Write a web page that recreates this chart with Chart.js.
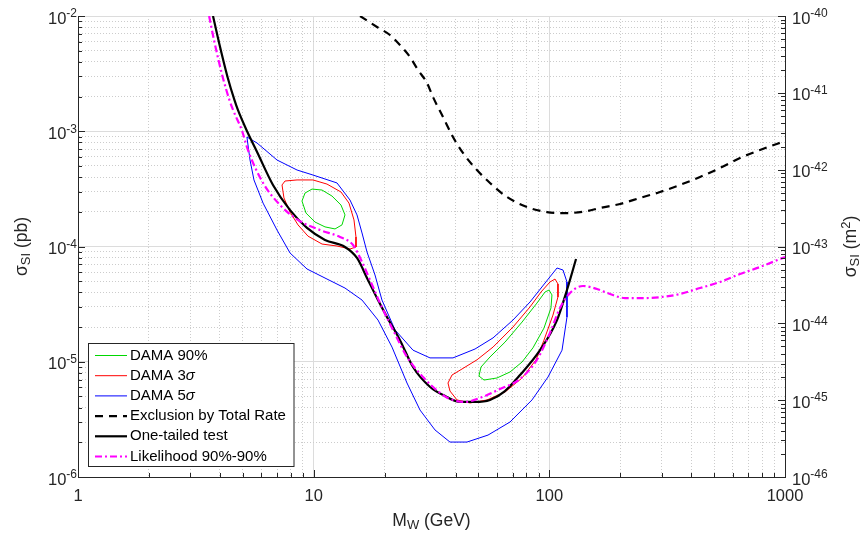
<!DOCTYPE html>
<html>
<head>
<meta charset="utf-8">
<script src="https://cdn.jsdelivr.net/npm/chart.js@4.4.0/dist/chart.umd.min.js"></script>
<style>
  html, body { margin: 0; padding: 0; background: #fff; }
  canvas { display: block; }
</style>
</head>
<body>
<canvas id="sigma" width="868" height="536"></canvas>
<script>
// WIMP mass M_W (GeV) and cross section sigma_SI (pb)

// DAMA 90% contour, low and high mass islands
var dama90LowX = [8.92, 9.19, 9.84, 10.85, 11.96, 13.06, 13.58, 13.19, 12.32, 11.17, 10.13, 9.28, 8.92];
var dama90LowY = [2.48e-4, 2.91e-4, 3.15e-4, 3.09e-4, 2.74e-4, 2.29e-4, 1.88e-4, 1.54e-4, 1.42e-4, 1.48e-4, 1.63e-4, 1.95e-4, 2.48e-4];
var dama90HighX = [50.29, 51.29, 56.0, 64.85, 76.6, 88.6, 95.9, 99.7, 102.6, 101.6, 94.9, 85.2, 76.6, 68.1, 59.97, 52.82, 50.29];
var dama90HighY = [7.52e-6, 9.0e-6, 1.10e-5, 1.48e-5, 2.21e-5, 3.23e-5, 4.03e-5, 4.19e-5, 3.80e-5, 2.93e-5, 1.96e-5, 1.32e-5, 9.95e-6, 8.15e-6, 7.23e-6, 6.94e-6, 7.52e-6];

// DAMA 3 sigma contour
var dama3LowX = [7.34, 7.56, 8.50, 9.93, 11.39, 13.06, 14.12, 14.83, 15.12, 15.12, 14.26, 12.56, 10.85, 9.46, 8.58, 7.94, 7.48, 7.34];
var dama3LowY = [3.42e-4, 3.70e-4, 3.78e-4, 3.78e-4, 3.48e-4, 2.97e-4, 2.38e-4, 1.70e-4, 1.21e-4, 9.90e-5, 9.51e-5, 1.01e-4, 1.05e-4, 1.23e-4, 1.54e-4, 1.99e-4, 2.64e-4, 3.42e-4];
var dama3HighX = [37.15, 38.64, 42.60, 49.34, 57.68, 70.1, 82.8, 92.2, 100.6, 105.7, 108.8, 108.8, 103.6, 94.9, 87.8, 76.6, 64.85, 54.39, 46.07, 40.57, 37.88, 37.15];
var dama3HighY = [6.54e-6, 7.67e-6, 8.65e-6, 1.04e-5, 1.34e-5, 2.00e-5, 2.99e-5, 4.03e-5, 4.92e-5, 5.22e-5, 4.73e-5, 3.65e-5, 2.54e-5, 1.54e-5, 1.04e-5, 7.23e-6, 5.46e-6, 4.66e-6, 4.39e-6, 4.66e-6, 5.57e-6, 6.54e-6];

// DAMA 5 sigma contour (one closed region)
var dama5X = [5.21, 5.75, 6.99, 8.50, 9.93, 12.56, 14.26, 15.27, 16.04, 16.84, 18.21, 19.49, 22.14, 26.40, 31.16, 39.01, 48.38, 57.68, 70.1, 82.8, 95.9, 107.8, 114.3, 118.8, 118.8, 113.2, 98.7, 84.4, 68.1, 54.93, 44.74, 37.88, 32.72, 28.27, 24.89, 21.50, 18.75, 16.04, 13.58, 11.39, 9.37, 7.94, 6.99, 6.10, 5.58, 5.37, 5.21];
var dama5Y = [8.91e-4, 7.91e-4, 5.63e-4, 4.61e-4, 4.17e-4, 3.56e-4, 2.53e-4, 1.88e-4, 1.31e-4, 8.96e-5, 5.66e-5, 3.43e-5, 1.89e-5, 1.26e-5, 1.08e-5, 1.08e-5, 1.29e-5, 1.61e-5, 2.30e-5, 3.30e-5, 4.82e-5, 6.51e-5, 6.25e-5, 4.92e-5, 2.44e-5, 1.26e-5, 7.37e-6, 4.66e-6, 3.00e-6, 2.31e-6, 2.01e-6, 2.01e-6, 2.56e-6, 3.81e-6, 6.54e-6, 1.34e-5, 2.30e-5, 3.43e-5, 4.36e-5, 5.22e-5, 6.38e-5, 8.78e-5, 1.39e-4, 2.38e-4, 3.78e-4, 5.63e-4, 8.91e-4];

// Exclusion by total rate
var rateX = [15.73, 18.57, 21.08, 23.24, 25.63, 27.72, 30.26, 32.09, 35.39, 39.01, 43.0, 49.3, 56.0, 66.1, 80.4, 97.7, 118.8, 144.5, 164.1, 199.5, 242.5, 294.8, 358.4, 435.8, 529.9, 644.2, 783.2, 1000];
var rateY = [1e-2, 8.03e-3, 6.84e-3, 5.60e-3, 4.41e-3, 3.40e-3, 2.62e-3, 1.98e-3, 1.33e-3, 8.91e-4, 6.48e-4, 4.61e-4, 3.56e-4, 2.69e-4, 2.20e-4, 1.99e-4, 1.95e-4, 2.03e-4, 2.16e-4, 2.34e-4, 2.64e-4, 2.97e-4, 3.42e-4, 4.01e-4, 4.80e-4, 5.86e-4, 6.88e-4, 8.23e-4];

// One-tailed test
var tailX = [3.74, 3.97, 4.31, 4.61, 4.77, 5.21, 5.78, 6.72, 7.94, 9.37, 11.17, 13.58, 15.27, 17.0, 18.75, 20.48, 23.24, 26.4, 31.2, 36.1, 41.8, 48.4, 56.0, 64.8, 75.1, 91.3, 107.8, 118.8, 129.8];
var tailY = [1e-2, 5.83e-3, 2.96e-3, 1.87e-3, 1.53e-3, 1.005e-3, 6.48e-4, 3.42e-4, 2.07e-4, 1.45e-4, 1.14e-4, 9.9e-5, 7.95e-5, 5.12e-5, 3.43e-5, 2.44e-5, 1.54e-5, 9.0e-6, 6.04e-6, 5.04e-6, 4.48e-6, 4.48e-6, 4.66e-6, 5.57e-6, 7.67e-6, 1.26e-5, 2.30e-5, 4.19e-5, 7.79e-5];

// Likelihood 90%-90%
var likeX = [3.60, 3.80, 4.11, 4.39, 4.55, 4.97, 5.26, 6.10, 7.20, 8.58, 10.64, 12.93, 14.69, 16.04, 17.34, 19.12, 21.71, 24.9, 29.1, 34.4, 37.9, 43.9, 50.8, 61.7, 75.1, 88.6, 100.6, 111.0, 122.4, 138.9, 159.3, 180.9, 209.5, 254.6, 300.6, 358.4, 435.8, 529.9, 644.2, 783.2, 1000];
var likeY = [1e-2, 5.83e-3, 2.96e-3, 1.87e-3, 1.53e-3, 1.005e-3, 6.88e-4, 3.56e-4, 2.29e-4, 1.70e-4, 1.39e-4, 1.21e-4, 1.03e-4, 7.34e-5, 5.12e-5, 3.23e-5, 1.89e-5, 1.10e-5, 7.37e-6, 5.36e-6, 4.75e-6, 4.48e-6, 4.85e-6, 5.80e-6, 7.09e-6, 1.04e-5, 1.78e-5, 2.93e-5, 3.95e-5, 4.54e-5, 4.28e-5, 3.87e-5, 3.57e-5, 3.57e-5, 3.65e-5, 3.87e-5, 4.36e-5, 4.92e-5, 5.77e-5, 6.64e-5, 8.11e-5];

// tick labels
var xTickValues = [1, 10, 100, 1000];
var xTickLabels = ["1", "10", "100", "1000"];
var yTickValues = [1e-2, 1e-3, 1e-4, 1e-5, 1e-6];
var yTickExps = ["-2", "-3", "-4", "-5", "-6"];
var y2TickValues = [1e-40, 1e-41, 1e-42, 1e-43, 1e-44, 1e-45, 1e-46];
var y2TickExps = ["-40", "-41", "-42", "-43", "-44", "-45", "-46"];

var FONT = '"Liberation Sans", Arial, Helvetica, sans-serif';
var INK = "#262626";

function pts(xs, ys) {
  return xs.map(function (x, i) { return { x: x, y: ys[i] }; });
}

function series(xs, ys, color, width, dash, smooth, order) {
  return {
    data: pts(xs, ys),
    showLine: true,
    borderColor: color,
    backgroundColor: color,
    borderWidth: width,
    borderDash: dash,
    pointRadius: 0,
    fill: false,
    cubicInterpolationMode: smooth ? "monotone" : "default",
    order: order
  };
}

var GREEN = "rgb(0,215,0)", RED = "#ff0000", BLUE = "#0000ff", MAGENTA = "#ff00ff";
var RATE_DASH = [8, 6], LIKE_DASH = [7, 3, 2, 3];

// draw a run of text pieces: [text, size, dy, italic]
function runs(ctx, parts, x, y, align) {
  var w = 0;
  parts.forEach(function (p) {
    ctx.font = (p[3] ? "italic " : "") + p[1] + "px " + FONT;
    w += ctx.measureText(p[0]).width;
  });
  var cx = align === "center" ? x - w / 2 : align === "right" ? x - w : x;
  parts.forEach(function (p) {
    ctx.font = (p[3] ? "italic " : "") + p[1] + "px " + FONT;
    ctx.fillText(p[0], cx, y + (p[2] || 0));
    cx += ctx.measureText(p[0]).width;
  });
}

function decadeTicks(scale) {
  var lo = Math.round(Math.log10(scale.min)), hi = Math.round(Math.log10(scale.max));
  var out = [];
  for (var e = lo; e < hi; e++) {
    for (var m = 1; m < 10; m++) out.push({ value: m * Math.pow(10, e), major: m === 1 });
  }
  out.push({ value: Math.pow(10, hi), major: true });
  scale.ticks = out;
}

var gridColor = function (c) { return c.tick && c.tick.major ? "#dcdcdc" : "#cccccc"; };
var gridDash = function (c) { return c.tick && !c.tick.major ? [1, 2] : []; };

var axesPlugin = {
  id: "matlabAxes",
  afterDraw: function (chart) {
    var ctx = chart.ctx, a = chart.chartArea;
    var sx = chart.scales.x, sy = chart.scales.y, sy2 = chart.scales.y2;
    ctx.save();
    ctx.strokeStyle = INK;
    ctx.lineWidth = 1;
    ctx.beginPath();
    sy.ticks.forEach(function (t) {
      var p = Math.round(sy.getPixelForValue(t.value)) + 0.5;
      ctx.moveTo(a.left, p); ctx.lineTo(a.left + (t.major ? 7 : 4), p);
    });
    sy2.ticks.forEach(function (t) {
      var p = Math.round(sy2.getPixelForValue(t.value)) + 0.5;
      ctx.moveTo(a.right, p); ctx.lineTo(a.right - (t.major ? 7 : 4), p);
    });
    sx.ticks.forEach(function (t) {
      var p = Math.round(sx.getPixelForValue(t.value)) + 0.5;
      ctx.moveTo(p, a.bottom); ctx.lineTo(p, a.bottom - (t.major ? 7 : 4));
    });
    ctx.stroke();

    // tick labels
    ctx.fillStyle = INK;
    ctx.textBaseline = "middle";
    xTickValues.forEach(function (v, i) {
      runs(ctx, [[xTickLabels[i], 16.5, 0]], sx.getPixelForValue(v), a.bottom + 19, "center");
    });
    yTickValues.forEach(function (v, i) {
      var p = sy.getPixelForValue(v);
      runs(ctx, [["10", 16.5, 3], [yTickExps[i], 12, -2]], a.left - 1, p, "right");
    });
    y2TickValues.forEach(function (v, i) {
      var p = sy2.getPixelForValue(v);
      runs(ctx, [["10", 16.5, 3], [y2TickExps[i], 12, -2]], a.right + 7, p, "left");
    });

    // axis titles
    runs(ctx, [["M", 17.5, 0], ["W", 13, 4], [" (GeV)", 17.5, 0]], (a.left + a.right) / 2, 521, "center");
    ctx.save();
    ctx.translate(22, (a.top + a.bottom) / 2);
    ctx.rotate(-Math.PI / 2);
    runs(ctx, [["\u03c3", 17.5, 0], ["SI", 13, 4], [" (pb)", 17.5, 0]], 0, 0, "center");
    ctx.restore();
    ctx.save();
    ctx.translate(851, (a.top + a.bottom) / 2);
    ctx.rotate(-Math.PI / 2);
    runs(ctx, [["\u03c3", 17.5, 0], ["SI", 13, 4], [" (m", 17.5, 0], ["2", 13, -5], [")", 17.5, 0]], 0, 0, "center");
    ctx.restore();

    // legend box, lower left inside the axes
    var lx = 88.5, ly = 343.5, lw = 205.5, lh = 123;
    ctx.fillStyle = "#fff";
    ctx.fillRect(lx, ly, lw, lh);
    ctx.strokeStyle = INK;
    ctx.strokeRect(lx, ly, lw, lh);
    var items = [
      { color: GREEN, width: 1, dash: [], text: [["DAMA 90%", 15, 0]] },
      { color: RED, width: 1, dash: [], text: [["DAMA 3", 15, 0], ["\u03c3", 15, 0, true]] },
      { color: BLUE, width: 1, dash: [], text: [["DAMA 5", 15, 0], ["\u03c3", 15, 0, true]] },
      { color: "#000", width: 2.2, dash: RATE_DASH, text: [["Exclusion by Total Rate", 15, 0]] },
      { color: "#000", width: 2.2, dash: [], text: [["One-tailed test", 15, 0]] },
      { color: MAGENTA, width: 2.2, dash: LIKE_DASH, text: [["Likelihood 90%-90%", 15, 0]] }
    ];
    items.forEach(function (it, i) {
      var yy = 355.5 + i * 20.2;
      ctx.beginPath();
      ctx.strokeStyle = it.color;
      ctx.lineWidth = it.width;
      ctx.setLineDash(it.dash);
      ctx.moveTo(95, yy); ctx.lineTo(127, yy);
      ctx.stroke();
      ctx.setLineDash([]);
      ctx.fillStyle = "#000";
      runs(ctx, it.text, 130, yy, "left");
    });
    ctx.restore();
  }
};

var ctx = document.getElementById("sigma").getContext("2d");
var chart = new Chart(ctx, {
  type: "scatter",
  data: {
    datasets: [
      series(dama90LowX, dama90LowY, GREEN, 1, [], false, 5),
      series(dama90HighX, dama90HighY, GREEN, 1, [], false, 5),
      series(dama3LowX, dama3LowY, RED, 1, [], false, 4),
      series(dama3HighX, dama3HighY, RED, 1, [], false, 4),
      series(dama5X, dama5Y, BLUE, 1, [], false, 3),
      series(rateX, rateY, "#000", 2.2, RATE_DASH, true, 2),
      series(tailX, tailY, "#000", 2.2, [], true, 1),
      series(likeX, likeY, MAGENTA, 2.2, LIKE_DASH, true, 0)
    ]
  },
  options: {
    responsive: false,
    animation: false,
    events: [],
    layout: { padding: { left: 78, right: 83, top: 16, bottom: 59 } },
    plugins: { legend: { display: false }, tooltip: { enabled: false } },
    scales: {
      x: {
        type: "logarithmic", position: "bottom", min: 1, max: 1000,
        afterBuildTicks: decadeTicks,
        ticks: { display: false },
        grid: { color: gridColor, lineWidth: 1, drawTicks: false },
        border: { display: true, color: INK, width: 1, dash: gridDash }
      },
      y: {
        type: "logarithmic", position: "left", min: 1e-6, max: 1e-2,
        afterBuildTicks: decadeTicks,
        ticks: { display: false },
        grid: { color: gridColor, lineWidth: 1, drawTicks: false },
        border: { display: true, color: INK, width: 1, dash: gridDash }
      },
      y2: {
        type: "logarithmic", position: "right", min: 1e-46, max: 1e-40,
        afterBuildTicks: decadeTicks,
        ticks: { display: false },
        grid: { drawOnChartArea: false, drawTicks: false },
        border: { display: true, color: INK, width: 1 }
      }
    }
  },
  plugins: [axesPlugin]
});
</script>
</body>
</html>
